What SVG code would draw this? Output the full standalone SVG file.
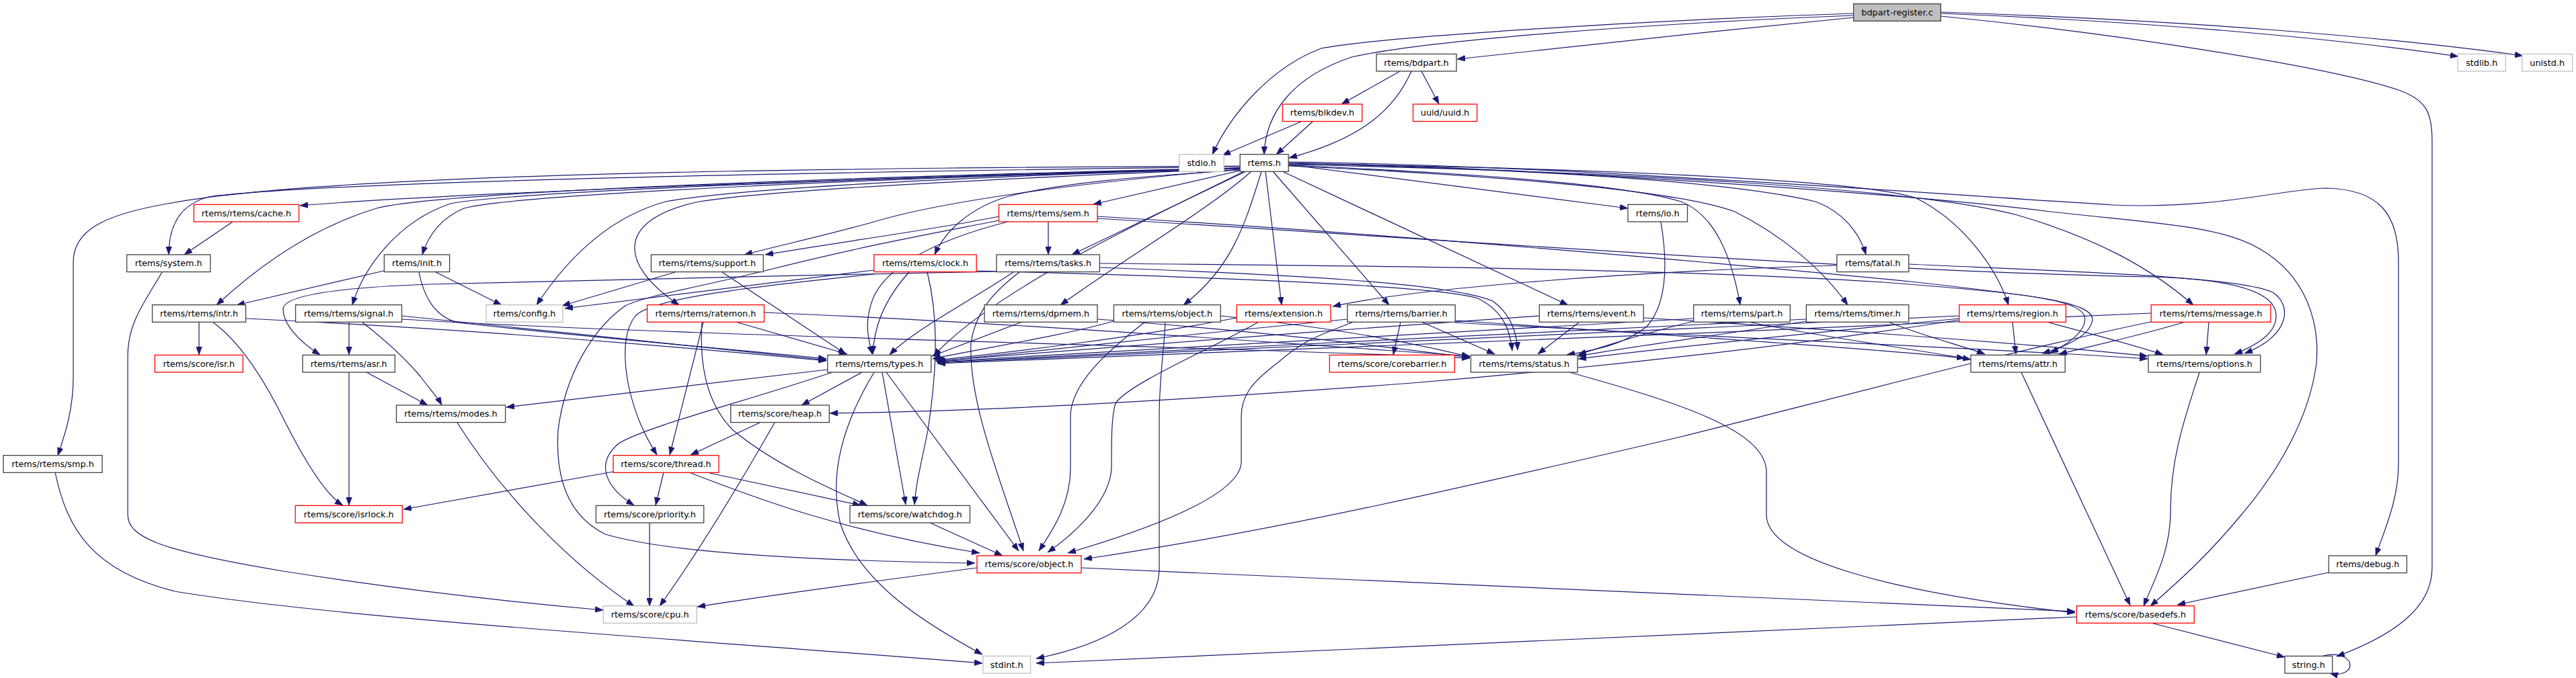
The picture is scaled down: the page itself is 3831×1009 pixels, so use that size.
<svg xmlns="http://www.w3.org/2000/svg" width="3831" height="1009" viewBox="0 0 3831 1009">
<style>
.e{fill:none;stroke:#191970;stroke-width:1.2;marker-end:url(#ah)}
rect{fill:#ffffff;stroke:#404040;stroke-width:1.3}
.r rect{stroke:#ff0000}
.g rect{stroke:#bfbfbf}
.root rect{fill:#bfbfbf;stroke:#404040}
text{font-family:"DejaVu Sans","Liberation Sans",sans-serif;font-size:12.8px;fill:#000000;text-anchor:middle}
</style>
<defs>
<marker id="ah" markerUnits="userSpaceOnUse" markerWidth="12" markerHeight="9" refX="12" refY="4.5" orient="auto">
<path d="M0,0 L12,4.5 L0,9 z" fill="#191970" stroke="#191970" stroke-width="0.5"/>
</marker>
</defs>
<rect x="0" y="0" width="3831" height="1009" style="fill:#ffffff;stroke:none"/>
<g id="edges">
<path class="e" d="M2757,26 C2560,45 2350,68 2167,88"/>
<path class="e" d="M2757,20 C2450,30 2050,55 1965,72 C1890,100 1830,170 1803,230"/>
<path class="e" d="M2757,23 C2450,35 2120,60 2010,85 C1920,115 1882,170 1880,230"/>
<path class="e" d="M2886,20 C3200,32 3480,58 3656,84"/>
<path class="e" d="M2886,18 C3250,30 3550,55 3752,83"/>
<path class="e" d="M2886,24 C3150,50 3470,100 3570,135 C3610,150 3617,170 3617,210 L3617,845 C3617,905 3560,945 3475,977"/>
<path class="e" d="M2082,106 L1995,155"/>
<path class="e" d="M2114,106 L2140,155"/>
<path class="e" d="M2099,106 C2075,160 2030,205 1917,235"/>
<path class="e" d="M1935,181 L1818,231"/>
<path class="e" d="M1952,181 L1898,230"/>
<path class="e" d="M1844,250 C1400,262 700,285 446,306"/>
<path class="e" d="M1844,248 C1300,255 500,268 310,293 C265,305 251,340 251,379"/>
<path class="e" d="M1844,247 C1300,250 500,255 250,303 C150,320 109,345 109,390 L109,560 C109,610 97,645 86,678"/>
<path class="e" d="M1844,250 C1300,262 650,285 560,310 C460,340 380,400 322,454"/>
<path class="e" d="M1844,251 C1300,265 760,290 690,310 C655,325 637,350 628,379"/>
<path class="e" d="M1844,250 C1300,265 760,285 670,303 C590,330 540,400 524,454"/>
<path class="e" d="M1844,251 C1450,262 1100,280 990,300 C900,325 840,390 798,454"/>
<path class="e" d="M1844,251 C1500,265 1150,282 1040,300 C920,325 915,390 1010,454"/>
<path class="e" d="M1844,252 C1600,272 1400,300 1300,330 C1230,350 1160,365 1107,379"/>
<path class="e" d="M1844,254 L1626,304"/>
<path class="e" d="M1844,253 C1700,262 1580,272 1500,292 C1440,310 1405,345 1390,379"/>
<path class="e" d="M1853,255 L1594,379"/>
<path class="e" d="M1861,255 C1800,310 1680,380 1577,454"/>
<path class="e" d="M1876,255 C1850,340 1830,400 1760,454"/>
<path class="e" d="M1882,255 L1906,454"/>
<path class="e" d="M1893,255 L2066,454"/>
<path class="e" d="M1907,255 L2332,454"/>
<path class="e" d="M1916,245 L2421,310"/>
<path class="e" d="M1916,243 C2200,250 2550,265 2700,300 C2740,315 2765,345 2775,379"/>
<path class="e" d="M1916,246 C2200,258 2420,275 2500,300 C2550,320 2575,380 2588,454"/>
<path class="e" d="M1916,247 C2250,262 2500,285 2580,315 C2650,350 2710,400 2748,454"/>
<path class="e" d="M1916,244 C2400,250 2780,270 2850,295 C2920,330 2970,400 2987,454"/>
<path class="e" d="M1916,245 C2400,255 2850,280 3000,320 C3120,355 3200,400 3262,454"/>
<path class="e" d="M1916,241 C2300,245 2900,290 3141,305 C3300,312 3400,280 3460,280 C3540,282 3567,320 3567,390 L3567,690 C3567,740 3550,780 3533,827"/>
<path class="e" d="M1916,242 C2300,250 2850,290 3050,315 C3200,332 3300,335 3360,370 C3430,410 3450,480 3445,540 C3435,620 3390,700 3330,770 C3280,830 3240,865 3198,902"/>
<path class="e" d="M1850,255 C1700,330 1480,430 1388,530"/>
<path class="e" d="M346,330 L274,379"/>
<path class="e" d="M241,405 C215,450 190,480 190,530 L190,766 C190,800 240,820 421,850 C600,878 750,895 897,908"/>
<path class="e" d="M571,403 L352,454"/>
<path class="e" d="M648,405 L746,454"/>
<path class="e" d="M623,405 C630,440 645,470 680,480 C900,505 1100,520 1229,534"/>
<path class="e" d="M1004,405 L836,455"/>
<path class="e" d="M1074,405 L1258,527"/>
<path class="e" d="M1300,402 L840,459"/>
<path class="e" d="M1300,408 C1100,428 970,445 945,470 C925,495 928,540 935,575 C945,620 960,650 977,677"/>
<path class="e" d="M1352,405 C1320,440 1300,480 1298,527"/>
<path class="e" d="M1379,405 C1395,470 1395,540 1380,640 C1370,690 1362,720 1360,751"/>
<path class="e" d="M1452,403 C1800,412 2150,425 2200,445 C2238,465 2246,495 2249,522"/>
<path class="e" d="M1482,404 C1200,410 900,415 640,423 C500,428 421,440 421,460 C421,480 440,505 476,528"/>
<path class="e" d="M1507,405 C1440,450 1360,490 1323,528"/>
<path class="e" d="M1516,405 C1470,440 1450,470 1444,510 C1440,600 1490,720 1522,820"/>
<path class="e" d="M1635,398 C1900,408 2150,420 2220,448 C2250,470 2256,500 2257,521"/>
<path class="e" d="M1635,392 C2000,395 2500,400 2800,420 C3000,435 3090,445 3100,470 C3105,490 3080,510 3049,525"/>
<path class="e" d="M1486,322 C1400,340 1250,360 1138,379"/>
<path class="e" d="M1486,328 C1400,345 1300,362 1137,403 C1050,425 960,440 930,455 C880,490 840,560 830,640 C825,720 850,770 900,795 C1000,825 1250,835 1450,838"/>
<path class="e" d="M1499,330 C1380,360 1320,400 1300,440 C1285,475 1290,500 1297,527"/>
<path class="e" d="M1559,330 L1559,379"/>
<path class="e" d="M1632,322 C2100,350 2600,395 2850,420 C3030,440 3110,450 3112,475 C3110,495 3085,512 3037,526"/>
<path class="e" d="M1632,325 C2200,360 2800,405 3200,412 C3340,416 3385,440 3385,470 C3385,495 3360,512 3323,527"/>
<path class="e" d="M296,479 L296,528"/>
<path class="e" d="M316,479 C345,500 380,540 420,620 C460,700 490,740 510,752"/>
<path class="e" d="M366,474 C700,490 1000,515 1229,537"/>
<path class="e" d="M519,479 L519,528"/>
<path class="e" d="M538,479 C565,500 600,530 625,560 C640,580 650,590 657,603"/>
<path class="e" d="M597,470 C800,490 1050,518 1229,536"/>
<path class="e" d="M597,475 C1000,500 1800,515 2186,533"/>
<path class="e" d="M519,554 L519,752"/>
<path class="e" d="M545,554 L636,603"/>
<path class="e" d="M1231,550 L753,606"/>
<path class="e" d="M1282,554 L1192,603"/>
<path class="e" d="M1238,554 C1100,600 960,635 920,660 C885,690 900,725 943,752"/>
<path class="e" d="M1312,554 L1347,751"/>
<path class="e" d="M1318,554 L1515,820"/>
<path class="e" d="M1300,554 C1260,620 1230,700 1250,780 C1280,870 1380,930 1461,974"/>
<path class="e" d="M1130,629 L1027,677"/>
<path class="e" d="M1152,629 C1100,720 1040,820 981,902"/>
<path class="e" d="M987,703 L975,752"/>
<path class="e" d="M912,702 L600,758"/>
<path class="e" d="M1051,703 L1280,752"/>
<path class="e" d="M1025,703 C1120,740 1250,790 1457,823"/>
<path class="e" d="M966,778 L966,902"/>
<path class="e" d="M1383,778 L1491,827"/>
<path class="e" d="M680,629 C750,740 850,840 943,902"/>
<path class="e" d="M82,703 C100,790 140,850 260,880 C500,920 1000,950 1461,987"/>
<path class="e" d="M1046,479 L996,677"/>
<path class="e" d="M1094,479 L1260,527"/>
<path class="e" d="M1044,479 C1040,540 1050,600 1090,640 C1150,690 1230,725 1290,752"/>
<path class="e" d="M1136,465 C1500,480 1900,510 2186,530"/>
<path class="e" d="M1520,479 L1386,530"/>
<path class="e" d="M1632,475 C1900,495 2050,515 2186,532"/>
<path class="e" d="M1656,478 C1580,500 1450,520 1387,534"/>
<path class="e" d="M1815,470 C2000,490 2100,510 2186,531"/>
<path class="e" d="M1703,479 C1650,520 1592,570 1592,620 L1592,697 C1592,750 1565,790 1545,820"/>
<path class="e" d="M1733,479 L1731,510 C1726,560 1724,600 1724,620 L1724,850 C1720,920 1640,960 1541,980"/>
<path class="e" d="M1839,473 C1700,500 1500,525 1391,536"/>
<path class="e" d="M1872,479 C1800,520 1680,570 1659,600 C1653,620 1653,650 1653,697 C1650,750 1590,800 1558,822"/>
<path class="e" d="M2083,479 L2072,528"/>
<path class="e" d="M2114,479 L2223,527"/>
<path class="e" d="M2004,475 C1800,495 1550,520 1392,538"/>
<path class="e" d="M2013,479 C1960,500 1940,505 1900,540 C1860,570 1846,590 1846,620 L1846,690 C1840,740 1700,790 1588,823"/>
<path class="e" d="M2164,477 C2500,500 2800,520 2922,533"/>
<path class="e" d="M2164,480 C2600,505 3000,520 3194,534"/>
<path class="e" d="M2349,479 L2287,527"/>
<path class="e" d="M2289,470 C2000,490 1600,520 1393,537"/>
<path class="e" d="M2444,473 C2800,495 3050,515 3194,530"/>
<path class="e" d="M2519,474 C2100,500 1700,520 1394,538"/>
<path class="e" d="M2519,478 C2450,495 2400,510 2347,528"/>
<path class="e" d="M2600,479 C2700,500 2850,520 2931,535"/>
<path class="e" d="M2686,475 C2200,500 1700,520 1394,539"/>
<path class="e" d="M2686,478 C2550,500 2430,515 2347,530"/>
<path class="e" d="M2808,479 C2860,500 2920,515 2952,527"/>
<path class="e" d="M2914,476 C2700,510 2400,545 2100,570 C1700,600 1450,612 1234,615"/>
<path class="e" d="M2914,470 C2400,495 1800,520 1394,540"/>
<path class="e" d="M2914,474 C2700,495 2500,515 2347,534"/>
<path class="e" d="M2993,479 L2998,527"/>
<path class="e" d="M3044,479 C3120,500 3180,515 3217,528"/>
<path class="e" d="M3285,479 L3281,528"/>
<path class="e" d="M3250,479 C3180,500 3110,515 3062,527"/>
<path class="e" d="M3199,466 C2600,495 1900,520 1394,541"/>
<path class="e" d="M3199,479 C3000,520 2700,600 2500,650 C2200,720 1900,790 1612,832"/>
<path class="e" d="M3463,852 L3238,900"/>
<path class="e" d="M3088,918 C2500,945 2000,965 1541,987"/>
<path class="e" d="M3199,927 L3398,978"/>
<path class="e" d="M3006,554 L3168,901"/>
<path class="e" d="M3271,554 C3250,620 3228,680 3228,760 C3228,820 3205,860 3188,902"/>
<path class="e" d="M2334,554 C2500,600 2623,640 2627,700 L2627,766 C2627,830 2800,880 3086,912"/>
<path class="e" d="M3455,976 C3480,970 3495,980 3495,990 C3495,1000 3480,1006 3465,1002"/>
<path class="e" d="M1453,845 C1300,865 1150,885 1037,903"/>
<path class="e" d="M1608,845 C2200,870 2700,895 3086,910"/>
<path class="e" d="M2470,330 C2480,390 2480,450 2450,485 C2420,510 2380,520 2330,528"/>
<path class="e" d="M2732,395 C2400,405 2100,430 1982,456"/>
<path class="e" d="M2839,393 C3100,405 3330,412 3380,435 C3410,455 3405,500 3338,526"/>
</g>
<g id="n_root" class="root"><rect x="2756.6" y="5.7" width="129.7" height="25.6"/><text x="2821.5" y="23">bdpart-register.c</text></g>
<g id="n_bdpart"><rect x="2047" y="80.4" width="119" height="25.6"/><text x="2106.5" y="97.7">rtems/bdpart.h</text></g>
<g id="n_stdlib" class="g"><rect x="3655.2" y="80.4" width="71.2" height="25.6"/><text x="3690.8" y="97.7">stdlib.h</text></g>
<g id="n_unistd" class="g"><rect x="3750.8" y="80.4" width="74.9" height="25.6"/><text x="3788.2" y="97.7">unistd.h</text></g>
<g id="n_blkdev" class="r"><rect x="1907.4" y="155" width="118.3" height="25.6"/><text x="1966.5" y="172.3">rtems/blkdev.h</text></g>
<g id="n_uuid" class="r"><rect x="2101.5" y="155" width="95.1" height="25.6"/><text x="2149" y="172.3">uuid/uuid.h</text></g>
<g id="n_stdio" class="g"><rect x="1753.7" y="229.7" width="66.5" height="25.6"/><text x="1787" y="247">stdio.h</text></g>
<g id="n_rtems"><rect x="1844.2" y="229.7" width="72" height="25.6"/><text x="1880.2" y="247">rtems.h</text></g>
<g id="n_cache" class="r"><rect x="288.4" y="304.4" width="156.2" height="25.6"/><text x="366.5" y="321.7">rtems/rtems/cache.h</text></g>
<g id="n_sem" class="r"><rect x="1485.5" y="304.4" width="146.5" height="25.6"/><text x="1558.7" y="321.7">rtems/rtems/sem.h</text></g>
<g id="n_io"><rect x="2421" y="304.4" width="88.5" height="25.6"/><text x="2465.2" y="321.7">rtems/io.h</text></g>
<g id="n_system"><rect x="188.6" y="379" width="124.2" height="25.6"/><text x="250.7" y="396.3">rtems/system.h</text></g>
<g id="n_init"><rect x="571.4" y="379" width="97.2" height="25.6"/><text x="620" y="396.3">rtems/init.h</text></g>
<g id="n_support"><rect x="968.4" y="379" width="166.8" height="25.6"/><text x="1051.8" y="396.3">rtems/rtems/support.h</text></g>
<g id="n_clock" class="r"><rect x="1299.8" y="379" width="152.4" height="25.6"/><text x="1376" y="396.3">rtems/rtems/clock.h</text></g>
<g id="n_tasks"><rect x="1482" y="379" width="153.4" height="25.6"/><text x="1558.7" y="396.3">rtems/rtems/tasks.h</text></g>
<g id="n_fatal"><rect x="2731.8" y="379" width="106.9" height="25.6"/><text x="2785.2" y="396.3">rtems/fatal.h</text></g>
<g id="n_intr"><rect x="226.5" y="453.7" width="139" height="25.6"/><text x="296" y="471">rtems/rtems/intr.h</text></g>
<g id="n_signal"><rect x="439.6" y="453.7" width="157.9" height="25.6"/><text x="518.5" y="471">rtems/rtems/signal.h</text></g>
<g id="n_config" class="g"><rect x="723" y="453.7" width="114" height="25.6"/><text x="780" y="471">rtems/config.h</text></g>
<g id="n_ratemon" class="r"><rect x="962.5" y="453.7" width="173.9" height="25.6"/><text x="1049.5" y="471">rtems/rtems/ratemon.h</text></g>
<g id="n_dpmem"><rect x="1464" y="453.7" width="168" height="25.6"/><text x="1548" y="471">rtems/rtems/dpmem.h</text></g>
<g id="n_object"><rect x="1656.4" y="453.7" width="158.8" height="25.6"/><text x="1735.8" y="471">rtems/rtems/object.h</text></g>
<g id="n_extension" class="r"><rect x="1839.2" y="453.7" width="139.8" height="25.6"/><text x="1909.1" y="471">rtems/extension.h</text></g>
<g id="n_barrier"><rect x="2003.8" y="453.7" width="160.4" height="25.6"/><text x="2084" y="471">rtems/rtems/barrier.h</text></g>
<g id="n_event"><rect x="2289.3" y="453.7" width="154.9" height="25.6"/><text x="2366.8" y="471">rtems/rtems/event.h</text></g>
<g id="n_part"><rect x="2518.7" y="453.7" width="143.6" height="25.6"/><text x="2590.5" y="471">rtems/rtems/part.h</text></g>
<g id="n_timer"><rect x="2686.3" y="453.7" width="152.4" height="25.6"/><text x="2762.5" y="471">rtems/rtems/timer.h</text></g>
<g id="n_region" class="r"><rect x="2913.7" y="453.7" width="158.7" height="25.6"/><text x="2993" y="471">rtems/rtems/region.h</text></g>
<g id="n_message" class="r"><rect x="3199.2" y="453.7" width="177.7" height="25.6"/><text x="3288" y="471">rtems/rtems/message.h</text></g>
<g id="n_isr" class="r"><rect x="230.3" y="528.4" width="131" height="25.6"/><text x="295.8" y="545.7">rtems/score/isr.h</text></g>
<g id="n_asr"><rect x="450.1" y="528.4" width="137.3" height="25.6"/><text x="518.7" y="545.7">rtems/rtems/asr.h</text></g>
<g id="n_types"><rect x="1230.7" y="528.4" width="154.1" height="25.6"/><text x="1307.7" y="545.7">rtems/rtems/types.h</text></g>
<g id="n_corebarrier" class="r"><rect x="1977.3" y="528.4" width="186.1" height="25.6"/><text x="2070.3" y="545.7">rtems/score/corebarrier.h</text></g>
<g id="n_status"><rect x="2187.4" y="528.4" width="158.7" height="25.6"/><text x="2266.7" y="545.7">rtems/rtems/status.h</text></g>
<g id="n_attr"><rect x="2931" y="528.4" width="140.2" height="25.6"/><text x="3001.1" y="545.7">rtems/rtems/attr.h</text></g>
<g id="n_options"><rect x="3195" y="528.4" width="166.7" height="25.6"/><text x="3278.3" y="545.7">rtems/rtems/options.h</text></g>
<g id="n_modes"><rect x="589.5" y="603" width="162.1" height="25.6"/><text x="670.5" y="620.3">rtems/rtems/modes.h</text></g>
<g id="n_heap"><rect x="1086.7" y="603" width="146.6" height="25.6"/><text x="1160" y="620.3">rtems/score/heap.h</text></g>
<g id="n_smp"><rect x="5" y="677.7" width="147" height="25.6"/><text x="78.5" y="695">rtems/rtems/smp.h</text></g>
<g id="n_thread" class="r"><rect x="912" y="677.7" width="157" height="25.6"/><text x="990.5" y="695">rtems/score/thread.h</text></g>
<g id="n_isrlock" class="r"><rect x="439.2" y="752.4" width="159.1" height="25.6"/><text x="518.7" y="769.7">rtems/score/isrlock.h</text></g>
<g id="n_priority"><rect x="886.3" y="752.4" width="160.4" height="25.6"/><text x="966.5" y="769.7">rtems/score/priority.h</text></g>
<g id="n_watchdog"><rect x="1264" y="752.4" width="178.5" height="25.6"/><text x="1353.2" y="769.7">rtems/score/watchdog.h</text></g>
<g id="n_sobject" class="r"><rect x="1453" y="827" width="155" height="25.6"/><text x="1530.5" y="844.3">rtems/score/object.h</text></g>
<g id="n_debug"><rect x="3463.2" y="827" width="116.2" height="25.6"/><text x="3521.3" y="844.3">rtems/debug.h</text></g>
<g id="n_cpu" class="g"><rect x="897.3" y="901.7" width="138.9" height="25.6"/><text x="966.7" y="919">rtems/score/cpu.h</text></g>
<g id="n_basedefs" class="r"><rect x="3088.4" y="901.7" width="174.8" height="25.6"/><text x="3175.8" y="919">rtems/score/basedefs.h</text></g>
<g id="n_stdint" class="g"><rect x="1461.9" y="976.4" width="70.7" height="25.6"/><text x="1497.2" y="993.7">stdint.h</text></g>
<g id="n_string"><rect x="3398" y="976.4" width="70.7" height="25.6"/><text x="3433.3" y="993.7">string.h</text></g>
</svg>
